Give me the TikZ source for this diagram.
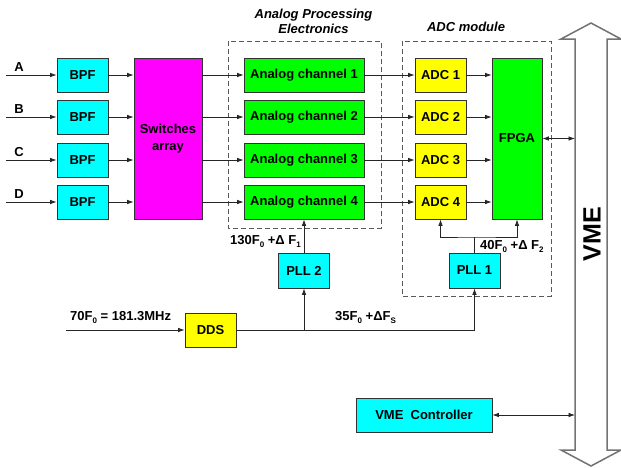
\documentclass[tikz,border=0pt]{standalone}
\usepackage{fontspec}
\setmainfont{Liberation Sans}
\usetikzlibrary{arrows.meta,calc}
\definecolor{ccy}{RGB}{0,255,255}
\definecolor{cgr}{RGB}{0,255,0}
\definecolor{cye}{RGB}{255,255,0}
\definecolor{cmg}{RGB}{255,0,255}
\newcommand\sbs[1]{\raisebox{-3pt}{\fontsize{8}{8}\selectfont #1}}
\tikzset{
  blk/.style={draw=black!80, line width=0.8pt, inner sep=0pt, font=\fontsize{13}{15}\selectfont\bfseries, align=center},
  cy/.style={blk, fill=ccy},
  gr/.style={blk, fill=cgr},
  ye/.style={blk, fill=cye},
  mg/.style={blk, fill=cmg},
  wire/.style={draw=black!85, line width=0.7pt},
  arr/.style={wire, -{Latex[length=6.5pt,width=4.5pt]}},
  darr/.style={wire, {Latex[length=6.5pt,width=4.5pt]}-{Latex[length=6.5pt,width=4.5pt]}},
  frame/.style={draw=black!65, line width=0.8pt, dash pattern=on 5pt off 3pt},
  lbl/.style={font=\fontsize{13}{15}\selectfont\bfseries, inner sep=0pt},
  ttl/.style={font=\fontsize{13}{15}\selectfont\bfseries\itshape, inner sep=0pt, align=center},
}
\begin{document}
\begin{tikzpicture}[x=1pt,y=-1pt]
\useasboundingbox (0,0) rectangle (621,467);
% frames
\draw[frame] (228,41) rectangle (381,228);
\draw[frame] (402,41) rectangle (551,296);
\node[ttl] (tA) at (313.5,21.5) {Analog Processing\\Electronics};
\node[ttl] (tB) at (466,27) {ADC module};
% VME bus arrow
\draw[draw=black!55, line width=1.5pt, fill=white, line join=miter]
  (575,39) -- (561,39) -- (591,23) -- (621,39) -- (607,39) -- (607,450) -- (621,450)
  -- (591,466) -- (561,450) -- (575,450) -- cycle;
\node[lbl, rotate=90, font=\fontsize{25}{25}\selectfont\bfseries] (vme) at (592,234) {VME};
\coordinate (vmeF) at (575,138.5);
\coordinate (vmeC) at (575,415);
% rows
\foreach \n/\y/\k in {A/75/1, B/117/2, C/160/3, D/202/4}{
  \coordinate (in\n) at (6,\y);
  \node[lbl] (l\n) at (19,{\y-8}) {\n};
  \node[cy, minimum width=51pt, minimum height=34pt] (bpf\n) at (82.5,\y) {BPF};
  \node[gr, minimum width=120pt, minimum height=34pt] (ach\k) at (304,\y) {Analog channel \k};
  \node[ye, minimum width=51pt, minimum height=34pt] (adc\k) at (440.5,\y) {ADC \k};
}
\node[mg, minimum width=68pt, minimum height=161pt, font=\fontsize{13}{17}\selectfont\bfseries] (sw) at (168,138.5) {Switches\\array};
\node[gr, minimum width=50pt, minimum height=161pt] (fpga) at (517,138.5) {FPGA};
\node[cy, minimum width=51pt, minimum height=35pt] (pll2) at (304,270.5) {PLL 2};
\node[cy, minimum width=51pt, minimum height=35pt] (pll1) at (474.5,270.5) {PLL 1};
\node[ye, minimum width=51pt, minimum height=34pt] (dds) at (210.5,330) {DDS};
\node[cy, minimum width=136pt, minimum height=34pt] (vmec) at (424,415) {VME\ \ Controller};
% row connectors
\foreach \n/\k in {A/1, B/2, C/3, D/4}{
  \draw[arr] (in\n) -- (bpf\n.west);
  \draw[arr] (bpf\n.east) -- (sw.west |- bpf\n.east);
  \draw[arr] (sw.east |- ach\k.west) -- (ach\k.west);
  \draw[arr] (ach\k.east) -- (adc\k.west);
  \draw[arr] (adc\k.east) -- (fpga.west |- adc\k.east);
}
\draw[darr] (fpga.east) -- (vmeF);
\draw[darr] (vmec.east) -- (vmeC);
% PLLs
\draw[arr] (pll2.north) -- (pll2.north |- ach4.south);
\coordinate (j1) at (474.5,237);
\draw[wire] (pll1.north) -- (j1);
\draw[darr] (adc4.south) |- (j1) -| (fpga.south);
% DDS
\coordinate (ddsin) at (66,330);
\draw[arr] (ddsin) -- (dds.west);
\draw[arr] (dds.east) -| (pll1.south);
\draw[arr] (pll2.south |- dds.east) -- (pll2.south);
% labels
\node[lbl, anchor=east] (f130) at (301,241) {130F\sbs{0} +Δ F\sbs{1}};
\node[lbl, anchor=west] (f40) at (480,246) {40F\sbs{0} +Δ F\sbs{2}};
\node[lbl, anchor=west] (f35) at (335,317) {35F\sbs{0} +ΔF\sbs{S}};
\node[lbl, anchor=west] (f70) at (70,317) {70F\sbs{0} = 181.3MHz};
\end{tikzpicture}
\end{document}
